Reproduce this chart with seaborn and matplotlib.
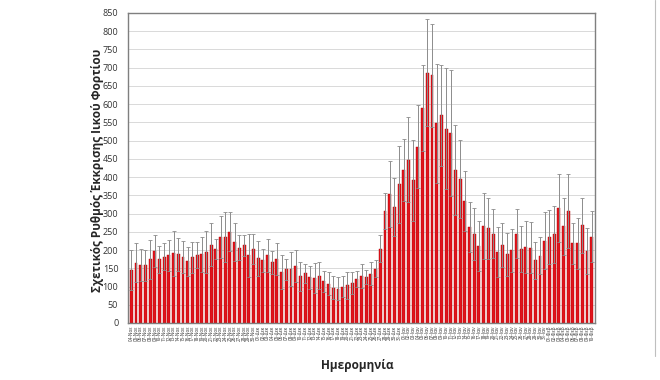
import datetime as dt
import numpy as np
import pandas as pd
import matplotlib
matplotlib.use("Agg")
import matplotlib.pyplot as plt
from matplotlib.lines import Line2D
import seaborn as sns

# ---- data ----
months_gr = {11: "Νοε", 12: "Δεκ", 1: "Ιαν", 2: "Φεβ"}
start = dt.date(2021, 11, 4)
n_days = 99
dates = [start + dt.timedelta(days=i) for i in range(n_days)]
date_labels = [f"{d.day:02d}-{months_gr[d.month]}" for d in dates]

values = [
    144.5, 165.6, 158, 158.5, 174.7, 196.6, 174.7, 182, 185.6, 191,
    188.4, 180, 169, 180, 187, 188, 194.7, 214, 203, 237,
    235, 250.6, 221, 206, 213, 185.6, 203, 177, 172, 185.6,
    166, 174.7, 140, 147, 147.6, 155.5, 128, 137, 125, 123.5,
    130, 114, 108, 97, 94, 99, 103, 110, 121, 130,
    126, 135, 149, 204, 307, 353, 318, 380, 420, 448,
    391, 483, 590, 686, 679, 548, 569, 533, 521, 420,
    396, 335, 263, 245, 211, 266, 260, 245, 195, 214,
    188, 199, 245, 203, 209, 207, 172, 185, 226, 236,
    243, 315, 265, 307, 219, 218, 268, 197, 237,
]
upper = [
    199, 219, 202, 201, 228, 240, 211, 219, 228, 253,
    234, 224, 209, 223, 223, 237, 253, 273, 231, 294.5,
    304, 304, 273, 240, 242, 245, 245, 226, 204, 231,
    197, 218, 187.5, 175.5, 194, 199, 167, 163, 157, 164,
    168, 142, 140, 128, 126, 128, 140, 140, 142, 163,
    145, 167, 172, 242, 356, 443, 398, 486, 505, 565,
    501, 597, 708, 833, 821, 711, 707, 699, 693, 544,
    503, 417, 332, 316, 280, 356, 344, 312, 263, 274,
    248, 257, 313, 265, 280, 276, 223, 236, 303, 309,
    322, 408, 344, 408, 275, 287, 344, 261, 307,
]
errors = [u - v for u, v in zip(upper, values)]

y_ticks = list(range(0, 851, 50))
y_label = "Σχετικός Ρυθμός Έκκρισης Ιικού Φορτίου"
x_label = "Ημερομηνία"

df = pd.DataFrame({"date": date_labels, "value": values})

# ---- plot ----
sns.set_style("white")
plt.rcParams["font.family"] = ["Open Sans", "DejaVu Sans"]

W, H = 660, 380
fig = plt.figure(figsize=(6.6, 3.8), dpi=100)
ax = fig.add_axes([128 / W, (H - 323) / H, (595 - 128) / W, (323 - 13) / H])

sns.barplot(data=df, x="date", y="value", color="#e0141c", width=0.62,
            edgecolor="#b00000", linewidth=0.3, ax=ax, errorbar=None,
            saturation=1)
ax.errorbar(np.arange(n_days), values, yerr=errors, fmt="none",
            ecolor="#8c8c8c", elinewidth=0.7, capsize=1.3, capthick=0.6,
            zorder=3)

ax.set_ylim(0, 850)
ax.set_xlim(-0.7, n_days - 0.3)
ax.set_yticks(y_ticks)
ax.set_yticklabels([str(t) for t in y_ticks], fontsize=6.5, color="#333333")
ax.set_xticks(np.arange(n_days))
ax.set_xticklabels(date_labels, rotation=90, fontsize=3.3, color="#333333")
ax.tick_params(axis="both", length=0, pad=2)
ax.tick_params(axis="y", pad=7)

ax.yaxis.grid(True, color="#d9d9d9", linewidth=0.7)
ax.set_axisbelow(True)
for s in ax.spines.values():
    s.set_visible(True)
    s.set_color("#7f7f7f")
    s.set_linewidth(1.0)

ax.set_xlabel("")
ax.set_ylabel("")
fig.text(357 / W, 1 - 366 / H, x_label, fontsize=8.5, fontweight="bold",
         ha="center", va="center")
fig.text(97 / W, 1 - 170 / H, y_label, fontsize=8.5, fontweight="bold",
         ha="center", va="center", rotation=90)

# outer chart border on the right
fig.add_artist(Line2D([655 / W, 655 / W], [1 - 356 / H, 1.0],
                      transform=fig.transFigure, color="#bfbfbf", linewidth=0.8))

fig.savefig("out.png", dpi=100, facecolor="white")
